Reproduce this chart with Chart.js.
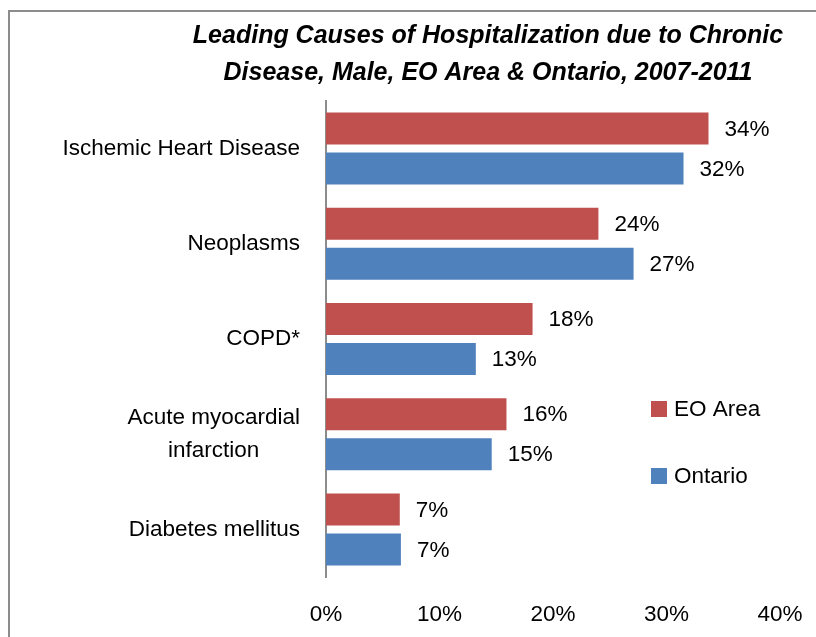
<!DOCTYPE html>
<html>
<head>
<meta charset="utf-8">
<script src="https://cdn.jsdelivr.net/npm/chart.js@4/dist/chart.umd.min.js"></script>
<style>
  html, body { margin: 0; padding: 0; background: #fff; }
  #wrap { position: relative; width: 816px; height: 637px; }
  #frame { position: absolute; left: 8px; top: 10px; right: 0; bottom: 0;
           border-left: 2px solid #8c8c8c; border-top: 2px solid #8c8c8c; pointer-events: none; }
  canvas { position: absolute; left: 0; top: 0; }
</style>
</head>
<body>
<div id="wrap">
  <canvas id="chart" width="816" height="637"></canvas>
  <div id="frame"></div>
</div>
<script>
// Chart data
const categories = [
    ["Ischemic Heart Disease"],
    ["Neoplasms"],
    ["COPD*"],
    ["Acute myocardial", "infarction"],
    ["Diabetes mellitus"]
];
const eoArea = [33.7, 24.0, 18.2, 15.9, 6.5];
const ontario = [31.5, 27.1, 13.2, 14.6, 6.6];
const xTicks = [0, 10, 20, 30, 40];
const titleLines = [
    "Leading Causes of Hospitalization due to Chronic",
    "Disease, Male, EO Area & Ontario, 2007-2011"
];

const RED = "#C0504D";
const BLUE = "#4F81BD";
const FONT = "'Liberation Sans', Arial, sans-serif";
const SIZE = 22.5;

// Title, category labels, value labels and legend
const decorations = {
    id: "decorations",
    afterDraw(chart) {
        const ctx = chart.ctx;
        const yScale = chart.scales.y;
        ctx.save();
        ctx.fillStyle = "#000";

        // title
        ctx.font = "italic bold 25px " + FONT;
        ctx.textAlign = "center";
        ctx.textBaseline = "middle";
        ctx.fillText(titleLines[0], 488, 36);
        ctx.fillText(titleLines[1], 488, 73);

        // category labels
        ctx.font = SIZE + "px " + FONT;
        categories.forEach((lines, i) => {
            const y = yScale.getPixelForValue(i);
            const lh = 33;
            const top = y - (lines.length - 1) * lh / 2;
            if (lines.length === 1) {
                ctx.textAlign = "right";
                ctx.fillText(lines[0], 300, y);
            } else {
                const w = Math.max(...lines.map(l => ctx.measureText(l).width));
                ctx.textAlign = "center";
                lines.forEach((l, k) => ctx.fillText(l, 300 - w / 2, top + k * lh));
            }
        });

        // value labels
        ctx.textAlign = "left";
        chart.data.datasets.forEach((ds, di) => {
            const meta = chart.getDatasetMeta(di);
            meta.data.forEach((bar, i) => {
                ctx.fillText(Math.round(ds.data[i]) + "%", bar.x + 16, bar.y + 1);
            });
        });

        // legend
        const items = [["EO Area", RED, 409], ["Ontario", BLUE, 476]];
        items.forEach(([label, color, y]) => {
            ctx.fillStyle = color;
            ctx.fillRect(651, y - 8, 16, 16);
            ctx.fillStyle = "#000";
            ctx.fillText(label, 674, y + 1);
        });
        ctx.restore();
    }
};

const ctx = document.getElementById("chart").getContext("2d");
new Chart(ctx, {
    type: "bar",
    data: {
        labels: categories,
        datasets: [
            { label: "EO Area", data: eoArea, backgroundColor: RED,
              barPercentage: 0.8, categoryPercentage: 0.84 },
            { label: "Ontario", data: ontario, backgroundColor: BLUE,
              barPercentage: 0.8, categoryPercentage: 0.84 }
        ]
    },
    options: {
        indexAxis: "y",
        responsive: false,
        animation: false,
        layout: { padding: { top: 101, right: 36, left: 0, bottom: 0 } },
        scales: {
            x: {
                min: 0, max: 40,
                afterBuildTicks: (scale) => { scale.ticks = xTicks.map(v => ({ value: v })); },
                afterFit: (scale) => {
                    scale.height = 60;
                    scale.paddingLeft = 0;
                    scale.paddingRight = 0;
                },
                grid: { display: false, drawTicks: false },
                border: { display: false },
                ticks: {
                    color: "#000",
                    padding: 24,
                    font: { family: FONT, size: SIZE },
                    callback: (v) => v + "%"
                }
            },
            y: {
                afterFit: (scale) => { scale.width = 326; },
                grid: { display: false, drawTicks: false },
                border: { display: true, color: "#8c8c8c", width: 2 },
                ticks: { display: false }
            }
        },
        plugins: {
            legend: { display: false },
            title: { display: false },
            tooltip: { enabled: false }
        }
    },
    plugins: [decorations]
});
</script>
</body>
</html>
